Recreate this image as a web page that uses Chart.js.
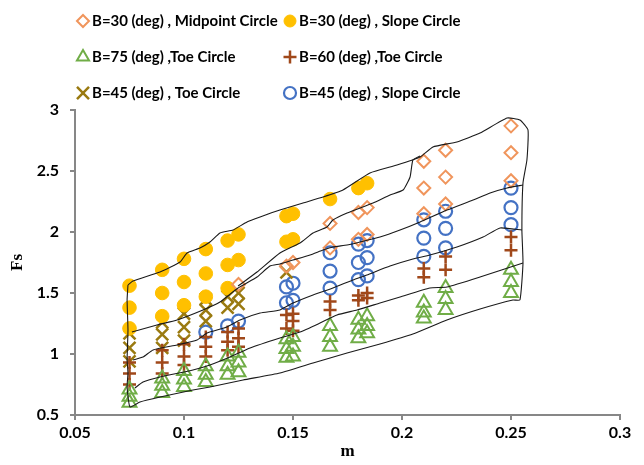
<!DOCTYPE html>
<html>
<head>
<meta charset="utf-8">
<script src="https://cdn.jsdelivr.net/npm/chart.js@4.4.0/dist/chart.umd.min.js"></script>
<style>
  html, body { margin: 0; padding: 0; background: #fff; }
  #wrap { width: 644px; height: 465px; }
</style>
</head>
<body>
<div id="wrap"><canvas id="fsChart" width="644" height="465"></canvas></div>
<script>
// ---- data ----
const seriesNames = [
  'B=30 (deg) , Midpoint Circle',
  'B=30 (deg) , Slope Circle',
  'B=75 (deg) ,Toe Circle',
  'B=60 (deg) ,Toe Circle',
  'B=45 (deg) , Toe Circle',
  'B=45 (deg) , Slope Circle'
];

const mid30X = [0.125, 0.147, 0.15, 0.167, 0.167, 0.18, 0.18, 0.184, 0.184, 0.21, 0.21, 0.21, 0.22, 0.22, 0.22, 0.25, 0.25, 0.25];
const mid30Y = [1.57, 1.72, 1.75, 2.07, 1.87, 2.16, 1.94, 2.20, 1.98, 2.58, 2.36, 2.15, 2.67, 2.45, 2.23, 2.87, 2.65, 2.42];

const slope30X = [0.075, 0.075, 0.075, 0.09, 0.09, 0.09, 0.1, 0.1, 0.1, 0.11, 0.11, 0.11, 0.12, 0.12, 0.12, 0.125, 0.125, 0.147, 0.147, 0.15, 0.15, 0.167, 0.18, 0.184];
const slope30Y = [1.56, 1.38, 1.21, 1.69, 1.50, 1.31, 1.78, 1.59, 1.40, 1.86, 1.66, 1.47, 1.93, 1.73, 1.54, 1.98, 1.77, 2.13, 1.92, 2.15, 1.94, 2.27, 2.36, 2.40];

const toe75X = [0.075, 0.075, 0.075, 0.09, 0.09, 0.09, 0.1, 0.1, 0.1, 0.11, 0.11, 0.11, 0.12, 0.12, 0.12, 0.125, 0.125, 0.125, 0.147, 0.147, 0.147, 0.15, 0.15, 0.15, 0.167, 0.167, 0.167, 0.18, 0.18, 0.18, 0.184, 0.184, 0.184, 0.21, 0.21, 0.21, 0.22, 0.22, 0.22, 0.25, 0.25, 0.25];
const toe75Y = [0.71, 0.65, 0.60, 0.80, 0.74, 0.68, 0.86, 0.79, 0.73, 0.90, 0.83, 0.77, 0.98, 0.90, 0.83, 1.01, 0.93, 0.85, 1.12, 1.04, 0.97, 1.14, 1.06, 0.98, 1.23, 1.14, 1.06, 1.28, 1.20, 1.13, 1.31, 1.23, 1.17, 1.42, 1.34, 1.29, 1.54, 1.45, 1.36, 1.69, 1.59, 1.50];

const toe60X = [0.075, 0.075, 0.075, 0.09, 0.09, 0.09, 0.1, 0.1, 0.1, 0.11, 0.11, 0.11, 0.12, 0.12, 0.12, 0.125, 0.125, 0.125, 0.147, 0.147, 0.15, 0.15, 0.15, 0.167, 0.167, 0.18, 0.18, 0.184, 0.184, 0.21, 0.21, 0.22, 0.22, 0.25, 0.25];
const toe60Y = [0.93, 0.84, 0.75, 1.03, 0.93, 0.84, 1.08, 0.98, 0.91, 1.14, 1.06, 0.98, 1.18, 1.10, 1.03, 1.21, 1.13, 1.06, 1.32, 1.21, 1.33, 1.27, 1.19, 1.43, 1.36, 1.48, 1.44, 1.50, 1.46, 1.70, 1.63, 1.80, 1.69, 1.96, 1.85];

const toe45X = [0.075, 0.075, 0.075, 0.09, 0.09, 0.09, 0.1, 0.1, 0.1, 0.11, 0.11, 0.11, 0.12, 0.12, 0.125, 0.125, 0.147];
const toe45Y = [1.17, 1.05, 0.94, 1.26, 1.16, 1.05, 1.33, 1.22, 1.11, 1.45, 1.36, 1.27, 1.47, 1.38, 1.50, 1.41, 1.67];

const slope45X = [0.11, 0.12, 0.125, 0.147, 0.147, 0.15, 0.15, 0.167, 0.167, 0.167, 0.18, 0.18, 0.18, 0.184, 0.184, 0.184, 0.21, 0.21, 0.21, 0.22, 0.22, 0.22, 0.25, 0.25, 0.25];
const slope45Y = [1.18, 1.23, 1.27, 1.55, 1.42, 1.58, 1.44, 1.83, 1.68, 1.54, 1.90, 1.75, 1.61, 1.93, 1.79, 1.64, 2.10, 1.95, 1.80, 2.17, 2.03, 1.87, 2.36, 2.20, 2.06];

// hand drawn region outlines (data units)
const outlineX = [0.0743, 0.0766, 0.0890, 0.0982, 0.1014, 0.1073, 0.1119, 0.1165, 0.1225, 0.1289, 0.1349, 0.1440, 0.1546, 0.1638, 0.1729, 0.1853, 0.1977, 0.2083, 0.2142, 0.2252, 0.2358, 0.2482, 0.2541, 0.2578, 0.2573, 0.2555, 0.2550, 0.2555, 0.2541, 0.2509, 0.2358, 0.2206, 0.2050, 0.1899, 0.1748, 0.1592, 0.1440, 0.1271, 0.1119, 0.1041, 0.0890, 0.0798, 0.0752, 0.0739, 0.0743, 0.0739, 0.0743, 0.0739, 0.0743];
const outlineY = [1.566, 1.598, 1.672, 1.754, 1.828, 1.869, 1.918, 1.992, 2.016, 2.082, 2.123, 2.180, 2.238, 2.287, 2.344, 2.484, 2.549, 2.615, 2.697, 2.738, 2.811, 2.934, 2.918, 2.836, 2.590, 2.402, 2.016, 1.746, 1.443, 1.443, 1.369, 1.279, 1.164, 1.082, 1.008, 0.926, 0.844, 0.787, 0.730, 0.705, 0.648, 0.607, 0.566, 0.730, 0.844, 0.951, 1.197, 1.443, 1.566];

const lineAX = [0.0761, 0.0876, 0.0968, 0.1087, 0.1165, 0.1248, 0.1335, 0.1394, 0.1440, 0.1500, 0.1578, 0.1638, 0.1683, 0.1748, 0.1807, 0.1899, 0.1991, 0.2083, 0.2206, 0.2326, 0.2404, 0.2482, 0.2555];
const lineAY = [1.180, 1.238, 1.279, 1.361, 1.426, 1.541, 1.631, 1.721, 1.738, 1.770, 1.811, 1.852, 1.877, 1.893, 1.918, 1.959, 2.016, 2.082, 2.180, 2.262, 2.320, 2.361, 2.385];

const lineUX = [0.1248, 0.1335, 0.1440, 0.1532, 0.1592, 0.1656, 0.1683, 0.1748, 0.1867, 0.1945, 0.2005, 0.2037, 0.2050, 0.2083];
const lineUY = [1.557, 1.672, 1.828, 1.910, 1.992, 2.041, 2.098, 2.156, 2.238, 2.303, 2.344, 2.451, 2.590, 2.623];

const lineBX = [0.0766, 0.0812, 0.0858, 0.0968, 0.1060, 0.1106, 0.1197, 0.1257, 0.1349, 0.1440, 0.1500, 0.1592, 0.1683, 0.1775, 0.1839, 0.1945, 0.2050, 0.2128, 0.2252, 0.2372, 0.2450, 0.2550];
const lineBY = [0.951, 0.975, 1.033, 1.074, 1.115, 1.172, 1.221, 1.279, 1.336, 1.361, 1.418, 1.484, 1.541, 1.607, 1.648, 1.721, 1.779, 1.811, 1.877, 1.959, 2.033, 2.016];

const lineCX = [0.0775, 0.0812, 0.0890, 0.1041, 0.1119, 0.1211, 0.1303, 0.1440, 0.1532, 0.1624, 0.1702, 0.1794, 0.1899, 0.1991, 0.2128, 0.2206, 0.2358, 0.2555];
const lineCY = [0.721, 0.770, 0.811, 0.869, 0.910, 0.975, 1.049, 1.131, 1.180, 1.254, 1.320, 1.361, 1.418, 1.467, 1.541, 1.549, 1.631, 1.746];

const xTickLabels = ['0.05', '0.1', '0.15', '0.2', '0.25', '0.3'];
const yTickLabels = ['0.5', '1', '1.5', '2', '2.5', '3'];

const zip = (xs, ys) => xs.map((x, i) => ({ x: x, y: ys[i] }));

const textFont = 'Lato, "Liberation Sans", Arial, sans-serif';

function markerSet(label, xs, ys, style, color, fill, radius, bw) {
    return {
        label: label,
        data: zip(xs, ys),
        pointStyle: style,
        pointRadius: radius,
        pointHoverRadius: radius,
        pointBorderColor: color,
        pointBackgroundColor: fill,
        pointBorderWidth: bw,
        showLine: false,
        order: 2
    };
}

function outlineSet(xs, ys) {
    return {
        label: '',
        data: zip(xs, ys),
        showLine: true,
        borderColor: '#1a1a1a',
        borderWidth: 1.1,
        pointRadius: 0,
        pointHoverRadius: 0,
        fill: false,
        tension: 0.15,
        order: 1,
        isOutline: true
    };
}

const datasets = [
    markerSet(seriesNames[0], mid30X, mid30Y, 'rectRot', '#F0955C', 'rgba(255,255,255,0)', 6.5, 2),
    markerSet(seriesNames[1], slope30X, slope30Y, 'circle', '#FFC000', '#FFC000', 6.8, 1),
    markerSet(seriesNames[2], toe75X, toe75Y, 'triangle', '#70AD47', 'rgba(255,255,255,0)', 8, 2),
    markerSet(seriesNames[3], toe60X, toe60Y, 'cross', '#A0481A', '#A0481A', 6.5, 2.5),
    markerSet(seriesNames[4], toe45X, toe45Y, 'crossRot', '#9A7A10', '#9A7A10', 8.5, 2.5),
    markerSet(seriesNames[5], slope45X, slope45Y, 'circle', '#4472C4', 'rgba(255,255,255,0)', 6.5, 2.2),
    outlineSet(outlineX, outlineY),
    outlineSet(lineAX, lineAY),
    outlineSet(lineUX, lineUY),
    outlineSet(lineBX, lineBY),
    outlineSet(lineCX, lineCY)
];

// two column legend above the plot, like the original
const legendRadius = [6, 6, 7, 6.5, 8.5, 6];
const gridLegend = {
    id: 'gridLegend',
    afterDraw(chart) {
        const ctx = chart.ctx;
        const colX = [83, 290];
        const rowY = [20, 56, 92];
        ctx.save();
        ctx.font = 'bold 15px ' + textFont;
        ctx.textBaseline = 'middle';
        ctx.textAlign = 'left';
        chart.data.datasets.forEach((ds, i) => {
            if (ds.isOutline) return;
            const cx = colX[i % 2];
            const cy = rowY[Math.floor(i / 2)];
            ctx.strokeStyle = ds.pointBorderColor;
            ctx.fillStyle = ds.pointBackgroundColor;
            ctx.lineWidth = ds.pointBorderWidth;
            Chart.helpers.drawPoint(ctx, { pointStyle: ds.pointStyle, radius: legendRadius[i], rotation: 0, borderWidth: ds.pointBorderWidth }, cx, cy + 1);
            ctx.fillStyle = '#000';
            ctx.fillText(ds.label, cx + 9, cy + 1);
        });
        ctx.restore();
    }
};

const ctx = document.getElementById('fsChart').getContext('2d');
new Chart(ctx, {
    type: 'scatter',
    data: { datasets: datasets },
    options: {
        responsive: false,
        animation: false,
        devicePixelRatio: 1,
        layout: { padding: { left: 0, top: 110, right: 24, bottom: 0 } },
        plugins: {
            legend: { display: false },
            tooltip: { enabled: false }
        },
        scales: {
            x: {
                type: 'linear',
                min: 0.05,
                max: 0.3,
                afterFit: (s) => { s.height = 50; },
                afterBuildTicks: (s) => {
                    s.ticks = xTickLabels.map(v => ({ value: parseFloat(v) }));
                },
                ticks: {
                    callback: (v, i) => xTickLabels[i],
                    color: '#000',
                    font: { family: textFont, size: 16, weight: 'bold' },
                    padding: 3,
                    maxRotation: 0
                },
                grid: { drawOnChartArea: false, drawTicks: true, tickLength: 5, color: '#878787', lineWidth: 2 },
                border: { color: '#878787', width: 2 },
                title: {
                    display: true,
                    text: 'm',
                    color: '#000',
                    font: { family: '"Liberation Serif", "Times New Roman", serif', size: 17, weight: 'bold' },
                    padding: { top: 0, bottom: 3 }
                }
            },
            y: {
                type: 'linear',
                min: 0.5,
                max: 3,
                afterFit: (s) => { s.width = 75; },
                afterBuildTicks: (s) => {
                    s.ticks = yTickLabels.map(v => ({ value: parseFloat(v) }));
                },
                ticks: {
                    callback: (v, i) => yTickLabels[i],
                    color: '#000',
                    font: { family: textFont, size: 16, weight: 'bold' },
                    padding: 11
                },
                grid: { drawOnChartArea: false, drawTicks: true, tickLength: 5, color: '#878787', lineWidth: 2 },
                border: { color: '#878787', width: 2 },
                title: {
                    display: true,
                    text: 'Fs',
                    color: '#000',
                    font: { family: '"Liberation Serif", "Times New Roman", serif', size: 17, weight: 'bold' },
                    padding: { top: 7, bottom: 0 }
                }
            }
        }
    },
    plugins: [gridLegend]
});
</script>
</body>
</html>
